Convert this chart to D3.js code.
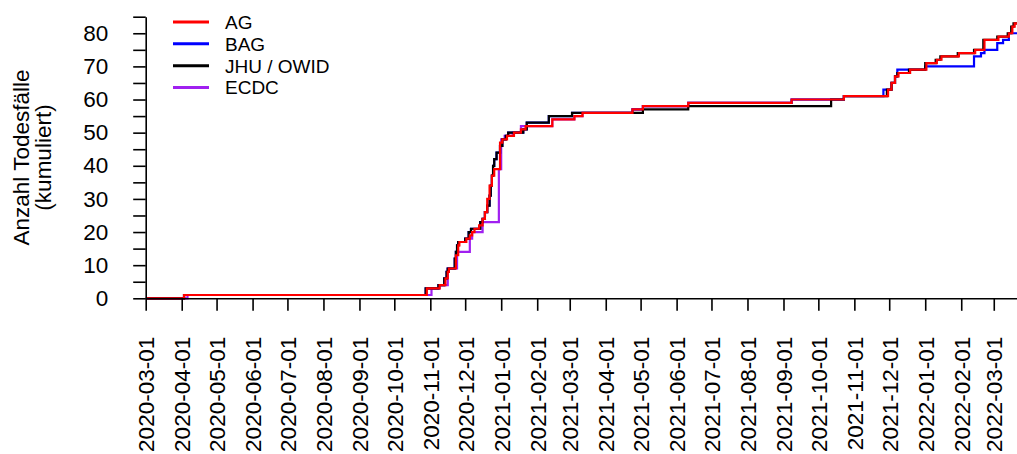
<!DOCTYPE html>
<html>
<head>
<meta charset="utf-8">
<script src="https://cdn.jsdelivr.net/npm/d3@7"></script>
<style>
  html, body { margin: 0; padding: 0; background: #fff; }
  svg { display: block; font-family: "Liberation Sans", Arial, sans-serif; }
</style>
</head>
<body>
<svg id="chart" width="1017" height="454"></svg>
<script>
// Kumulierte COVID-19-Todesfälle nach Quelle (Stufenfunktionen)
const agDates = ["2020-03-01","2020-04-03","2020-10-29","2020-11-09","2020-11-14","2020-11-16","2020-11-17","2020-11-23","2020-11-25","2020-11-26","2020-12-02","2020-12-05","2020-12-07","2020-12-09","2020-12-13","2020-12-16","2020-12-18","2020-12-20","2020-12-22","2020-12-24","2020-12-26","2020-12-31","2021-01-02","2021-01-06","2021-01-12","2021-01-18","2021-01-22","2021-02-14","2021-03-05","2021-03-12","2021-04-24","2021-05-03","2021-06-11","2021-09-08","2021-10-23","2021-11-30","2021-12-03","2021-12-06","2021-12-09","2021-12-19","2022-01-02","2022-01-11","2022-01-15","2022-01-30","2022-02-13","2022-02-21","2022-03-05","2022-03-14","2022-03-17","2022-03-19"];
const agValues = [0,1,3,4,6,8,9,13,16,17,18,19,20,21,22,24,26,30,34,37,39,47,48,49,50,51,52,54,55,56,57,58,59,60,61,63,65,67,68,69,71,72,73,74,75,78,79,80,82,83];

const bagDates = ["2020-03-01","2020-04-03","2020-10-28","2020-11-08","2020-11-13","2020-11-15","2020-11-16","2020-11-22","2020-11-23","2020-11-24","2020-11-25","2020-12-01","2020-12-04","2020-12-06","2020-12-14","2020-12-16","2020-12-18","2020-12-20","2020-12-22","2020-12-23","2020-12-24","2020-12-25","2020-12-26","2020-12-28","2020-12-31","2021-01-02","2021-01-05","2021-01-07","2021-01-20","2021-01-23","2021-02-11","2021-03-03","2021-04-24","2021-05-03","2021-06-11","2021-09-08","2021-10-23","2021-11-26","2021-12-03","2021-12-06","2021-12-08","2022-01-01","2022-02-12","2022-02-18","2022-02-21","2022-03-04","2022-03-09","2022-03-14"];
const bagValues = [0,1,3,4,6,8,9,12,14,16,17,18,20,21,23,24,26,28,31,34,37,40,42,44,46,48,49,50,51,53,55,56,57,58,59,60,61,63,65,67,69,70,73,74,75,77,78,80];

const jhuDates = ["2020-03-01","2020-04-03","2020-10-28","2020-11-08","2020-11-13","2020-11-15","2020-11-16","2020-11-22","2020-11-23","2020-11-24","2020-11-25","2020-12-01","2020-12-04","2020-12-06","2020-12-14","2020-12-16","2020-12-18","2020-12-20","2020-12-22","2020-12-23","2020-12-24","2020-12-25","2020-12-26","2020-12-28","2020-12-31","2021-01-02","2021-01-05","2021-01-07","2021-01-20","2021-01-23","2021-02-11","2021-03-03","2021-05-03","2021-06-11","2021-10-12","2021-10-23","2021-11-29","2021-12-03","2021-12-06","2021-12-08","2021-12-18","2022-01-01","2022-01-10","2022-01-14","2022-01-29","2022-02-12","2022-02-20","2022-03-04","2022-03-13","2022-03-16","2022-03-18"];
const jhuValues = [0,1,3,4,6,8,9,12,14,16,17,18,20,21,23,24,26,28,31,34,37,40,42,44,46,48,49,50,51,53,55,56,57,58,60,61,63,65,67,68,69,71,72,73,74,75,78,79,80,82,83];

const ecdcDates = ["2020-03-01","2020-04-06","2020-11-02","2020-11-09","2020-11-16","2020-11-24","2020-12-05","2020-12-07","2020-12-16","2020-12-30","2021-01-01","2021-01-04","2021-01-11","2021-01-18","2021-02-14","2021-03-05","2021-03-12","2021-04-24","2021-05-03","2021-06-11","2021-09-08","2021-10-23"];
const ecdcValues = [0,1,3,4,9,14,18,20,23,39,48,49,50,52,54,55,56,57,58,59,60,61];

const legendLabels = ["AG", "BAG", "JHU / OWID", "ECDC"];
const seriesColors = ["#FF0000", "#0000FF", "#000000", "#A020F0"];
const yTicks = d3.range(0, 86, 5);
const yTickLabels = d3.range(0, 81, 10);
const xStart = "2020-03-01";
const xEnd = "2022-03-21";
const yTitle = ["Anzahl Todesfälle", "(kumuliert)"];

(function () {
  const parse = d3.utcParse("%Y-%m-%d");
  const fmt = d3.utcFormat("%Y-%m-%d");
  const FONT = 22.5;

  const svg = d3.select("#chart");
  const plotLeft = 145.7, plotRight = 1017, plotTop = 16.7, plotBottom = 298.3;

  const x = d3.scaleUtc().domain([parse(xStart), parse(xEnd)]).range([plotLeft, plotRight]);
  const y = d3.scaleLinear().domain([0, 85]).range([plotBottom, plotTop]);

  function series(dates, values, extend) {
    const pts = dates.map((d, i) => ({ date: parse(d), value: values[i] }));
    if (extend) pts.push({ date: x.domain()[1], value: values[values.length - 1] });
    return pts;
  }

  // drawing order: ECDC underneath, AG on top
  const allSeries = [
    { data: series(ecdcDates, ecdcValues, false), color: seriesColors[3] },
    { data: series(bagDates, bagValues, true), color: seriesColors[1] },
    { data: series(jhuDates, jhuValues, true), color: seriesColors[2] },
    { data: series(agDates, agValues, true), color: seriesColors[0] }
  ];

  const line = d3.line()
    .x(d => x(d.date))
    .y(d => y(d.value))
    .curve(d3.curveStepAfter);

  svg.append("defs").append("clipPath").attr("id", "plotclip")
    .append("rect").attr("x", plotLeft).attr("y", 0)
    .attr("width", plotRight - plotLeft).attr("height", plotBottom + 2);

  const g = svg.append("g").attr("clip-path", "url(#plotclip)");
  g.selectAll("path.series")
    .data(allSeries)
    .join("path")
    .attr("class", "series")
    .attr("d", d => line(d.data))
    .attr("fill", "none")
    .attr("stroke", d => d.color)
    .attr("stroke-width", 2.2)
    .attr("stroke-linejoin", "miter");

  // y axis
  const yAxis = d3.axisLeft(y)
    .tickValues(yTicks)
    .tickSize(12.5)
    .tickSizeOuter(0)
    .tickPadding(25)
    .tickFormat(d => yTickLabels.includes(d) ? d : "");
  const gy = svg.append("g").attr("transform", `translate(${plotLeft},0)`).call(yAxis);
  gy.select(".domain").attr("stroke", "#000").attr("stroke-width", 1.6);
  gy.selectAll(".tick line").attr("stroke", "#000").attr("stroke-width", 1.6);
  gy.selectAll(".tick text").attr("font-size", FONT)
    .attr("font-family", "Liberation Sans, Arial, sans-serif").attr("fill", "#000");

  // x axis, one tick per month
  const months = d3.utcMonth.range(parse(xStart), d3.utcDay.offset(parse(xEnd), 1));
  const xAxis = d3.axisBottom(x)
    .tickValues(months)
    .tickSize(12.5)
    .tickSizeOuter(0)
    .tickFormat(fmt);
  const gx = svg.append("g").attr("transform", `translate(0,${plotBottom})`).call(xAxis);
  gx.select(".domain").attr("stroke", "#000").attr("stroke-width", 1.6);
  gx.selectAll(".tick line").attr("stroke", "#000").attr("stroke-width", 1.6);
  gx.selectAll(".tick text")
    .attr("font-size", FONT)
    .attr("font-family", "Liberation Sans, Arial, sans-serif")
    .attr("fill", "#000")
    .attr("text-anchor", "end")
    .attr("transform", "rotate(-90)")
    .attr("x", -38.5)
    .attr("y", 0)
    .attr("dy", "0.36em");

  // y axis title
  const title = svg.append("text")
    .attr("transform", `translate(0,${(plotTop + plotBottom) / 2}) rotate(-90)`)
    .attr("text-anchor", "middle")
    .attr("font-size", FONT)
    .attr("fill", "#000");
  title.append("tspan").attr("x", 0).attr("y", 28.5).text(yTitle[0]);
  title.append("tspan").attr("x", 0).attr("y", 50.5).text(yTitle[1]);

  // legend
  const legend = svg.append("g");
  const rows = legend.selectAll("g").data(legendLabels).join("g")
    .attr("transform", (d, i) => `translate(0,${22 + i * 21.85})`);
  rows.append("line")
    .attr("x1", 173).attr("x2", 209).attr("y1", 0).attr("y2", 0)
    .attr("stroke", (d, i) => seriesColors[i])
    .attr("stroke-width", 3);
  rows.append("text")
    .attr("x", 225).attr("y", 0).attr("dy", "0.36em")
    .attr("font-size", 19)
    .attr("fill", "#000")
    .text(d => d);
})();
</script>
</body>
</html>
